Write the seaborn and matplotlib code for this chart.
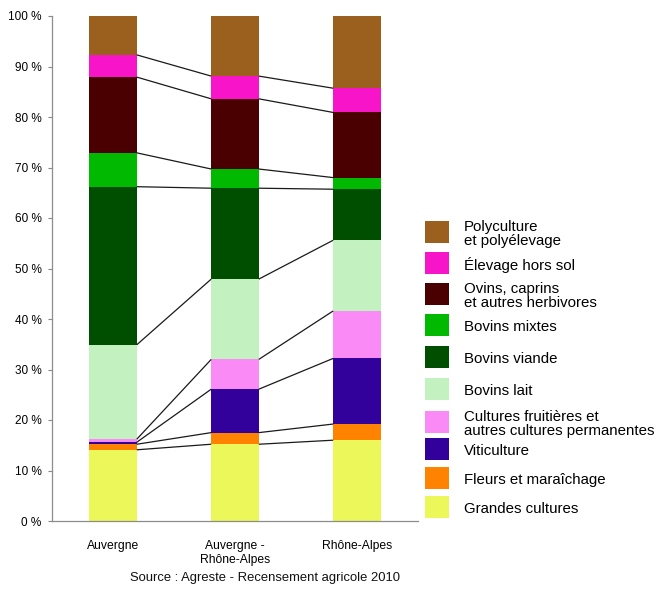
import matplotlib
matplotlib.use("Agg")
import matplotlib.pyplot as plt
from matplotlib.patches import Rectangle
import numpy as np
import pandas as pd
import seaborn as sns

# Regions (x categories)
regions = ["Auvergne", "Auvergne -\nRhône-Alpes", "Rhône-Alpes"]

# Farm specialisation shares (%), bottom layer first
categories = [
    "Grandes cultures",
    "Fleurs et maraîchage",
    "Viticulture",
    "Cultures fruitières et\nautres cultures permanentes",
    "Bovins lait",
    "Bovins viande",
    "Bovins mixtes",
    "Ovins, caprins\net autres herbivores",
    "Élevage hors sol",
    "Polyculture\net polyélevage",
]
grandes_cultures = [14.1, 15.2, 16.0]
fleurs_maraichage = [1.1, 2.3, 3.2]
viticulture = [0.4, 8.6, 13.0]
cultures_fruitieres = [0.6, 5.9, 9.4]
bovins_lait = [18.7, 15.9, 14.0]
bovins_viande = [31.3, 18.0, 10.1]
bovins_mixtes = [6.7, 3.8, 2.3]
ovins_caprins = [15.0, 13.9, 12.9]
elevage_hors_sol = [4.4, 4.5, 4.8]
polyculture = [7.7, 11.9, 14.3]

series = [grandes_cultures, fleurs_maraichage, viticulture, cultures_fruitieres,
          bovins_lait, bovins_viande, bovins_mixtes, ovins_caprins,
          elevage_hors_sol, polyculture]

colors = ["#ECF759", "#FF8200", "#32009A", "#F98AF6", "#C4F1C0",
          "#004E00", "#00B900", "#4A0000", "#F714C9", "#9B5F1E"]

ytick_values = [0, 10, 20, 30, 40, 50, 60, 70, 80, 90, 100]
source_text = "Source : Agreste - Recensement agricole 2010"

FONT = ["Liberation Sans", "DejaVu Sans"]
sns.set_theme(style="white")
plt.rcParams["font.family"] = FONT

W, H = 656, 589
fig = plt.figure(figsize=(W / 100, H / 100), dpi=100)
ax = fig.add_axes([52 / W, 1 - 521 / H, (418 - 52) / W, (521 - 16) / H])

# Cumulative tops for each layer
vals = np.array(series)
tops = np.cumsum(vals, axis=0)
bar_width = 0.39

df = pd.DataFrame({"region": np.repeat(regions, len(categories)),
                   "layer": categories * len(regions),
                   "top": tops.T.ravel()})

# Draw from the highest cumulative layer down so lower layers cover upper ones
for k in range(len(categories) - 1, -1, -1):
    sub = df[df["layer"] == categories[k]]
    sns.barplot(data=sub, x="region", y="top", color=colors[k], order=regions,
                width=bar_width, saturation=1, ax=ax, linewidth=0, errorbar=None)

# Connector lines between segment tops of adjacent bars
for k in range(len(categories) - 1):
    for i in range(len(regions) - 1):
        ax.plot([i + bar_width / 2, i + 1 - bar_width / 2],
                [tops[k, i], tops[k, i + 1]],
                color="#1a1a1a", lw=0.9, solid_capstyle="butt", zorder=3)

ax.set_xlim(-0.5, 2.5)
ax.set_ylim(0, 100)
ax.set_yticks(ytick_values)
ax.set_yticklabels([f"{v} %" for v in ytick_values], fontsize=8.5, color="#000000")
ax.tick_params(axis="y", left=True, length=3, width=0.8, color="#888888", pad=4.5)
ax.tick_params(axis="x", bottom=False, length=0, pad=13.5, labelsize=8.7, labelcolor="#000000")
ax.set_xlabel("")
ax.set_ylabel("")
for side in ["top", "right"]:
    ax.spines[side].set_visible(False)
for side in ["left", "bottom"]:
    ax.spines[side].set_color("#8c8c8c")
    ax.spines[side].set_linewidth(0.9)

# Legend drawn in figure pixel space
patch_centers = [507, 478, 449, 422, 389, 357, 325, 294, 263, 232]
for k, yc in enumerate(patch_centers):
    fig.add_artist(Rectangle((425 / W, 1 - (yc + 11) / H), 24 / W, 22 / H,
                             transform=fig.transFigure, facecolor=colors[k],
                             edgecolor="none"))
    fig.text(464 / W, 1 - (yc + 2) / H, categories[k], ha="left", va="center",
             fontsize=10.8, color="#000000", linespacing=1.0)

fig.text(265 / W, 1 - 578 / H, source_text, ha="center", va="center",
         fontsize=9.4, color="#111111")

fig.savefig("out.png", dpi=100)
